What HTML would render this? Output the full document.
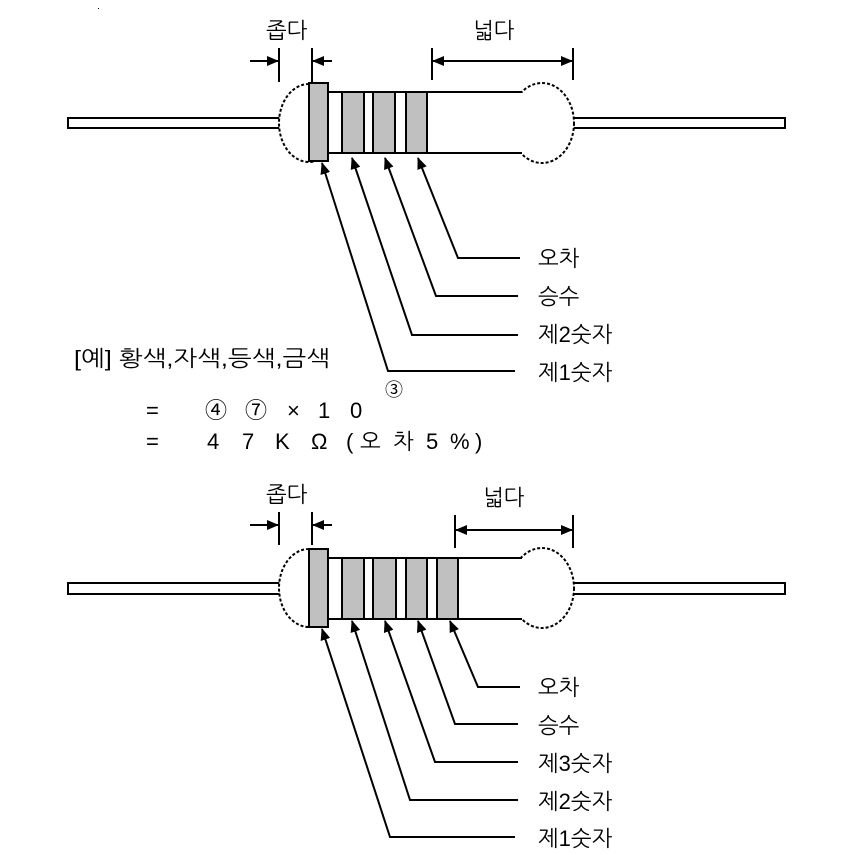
<!DOCTYPE html>
<html><head><meta charset="utf-8"><style>
html,body{margin:0;padding:0;background:#fff;width:856px;height:855px;overflow:hidden}
text{font-family:"Liberation Sans","NanumGothic","Noto Sans CJK KR",sans-serif;fill:#000}
</style></head><body>
<svg width="856" height="855" viewBox="0 0 856 855" xmlns="http://www.w3.org/2000/svg">
<defs>
<marker id="a" markerWidth="12" markerHeight="10" refX="11" refY="5" orient="auto" markerUnits="userSpaceOnUse"><path d="M0,0 L12,5 L0,10 z" fill="#000"/></marker>
</defs>
<rect x="98" y="8" width="1" height="1" fill="#000"/>
<g stroke="#000" stroke-width="2" fill="none">
<rect x="68" y="118" width="212" height="10"/>
<rect x="573" y="118" width="212" height="10"/>
<ellipse cx="309" cy="123" rx="30" ry="39" fill="#fff" stroke-dasharray="3,2"/>
<ellipse cx="542" cy="123" rx="32" ry="40" fill="#fff" stroke-dasharray="3,2"/>
<rect x="328" y="93" width="194" height="59" fill="#fff" stroke="none"/>
<path d="M328 92 H522 M328 153 H522"/>
<rect x="309" y="83" width="19" height="78" fill="#c0c0c0"/>
<rect x="342" y="92" width="22" height="61" fill="#c0c0c0"/>
<rect x="373" y="92" width="22" height="61" fill="#c0c0c0"/>
<rect x="406" y="92" width="21" height="61" fill="#c0c0c0"/>
<path d="M279 48 V82 M312 48 V82 M432 48 V80 M573 48 V80"/>
<path d="M250 61 H278" marker-end="url(#a)"/>
<path d="M332 61 H313" marker-end="url(#a)"/>
<path d="M500 61 H433" marker-end="url(#a)"/>
<path d="M500 61 H572" marker-end="url(#a)"/>
<path d="M515 371 H388 L322 163" marker-end="url(#a)"/>
<path d="M518 335 H412 L352 158" marker-end="url(#a)"/>
<path d="M518 296 H436 L385 158" marker-end="url(#a)"/>
<path d="M520 258 H458 L418 158" marker-end="url(#a)"/>
</g>
<text x="266" y="38" font-size="22">좁다</text>
<text x="473" y="38" font-size="22">넓다</text>
<text x="538" y="266" font-size="22">오차</text>
<text x="538" y="304" font-size="22">승수</text>
<text x="538" y="342" font-size="22">제2숫자</text>
<text x="538" y="380" font-size="22">제1숫자</text>
<text x="74" y="366" font-size="22" textLength="256" lengthAdjust="spacingAndGlyphs">[예] 황색,자색,등색,금색</text>
<text x="385" y="396" font-size="18">③</text>
<g font-size="22">
<text x="146" y="418">=</text><text x="205" y="418">④</text><text x="245" y="418">⑦</text><text x="287" y="418">×</text><text x="318" y="418">1</text><text x="350" y="418">0</text>
<text x="146" y="449">=</text><text x="207" y="449">4</text><text x="242" y="449">7</text><text x="275" y="449">K</text><text x="311" y="449">Ω</text><text x="346" y="449">(</text><text x="360" y="449">오</text><text x="393" y="449">차</text><text x="426" y="449">5</text><text x="450" y="449">%</text><text x="475" y="449">)</text>
</g>
<g stroke="#000" stroke-width="2" fill="none">
<rect x="68" y="583" width="212" height="11"/>
<rect x="573" y="583" width="212" height="11"/>
<ellipse cx="309" cy="588" rx="30" ry="39" fill="#fff" stroke-dasharray="3,2"/>
<ellipse cx="542" cy="588" rx="32" ry="40" fill="#fff" stroke-dasharray="3,2"/>
<rect x="328" y="559" width="194" height="59" fill="#fff" stroke="none"/>
<path d="M328 558 H522 M328 619 H522"/>
<rect x="309" y="549" width="19" height="78" fill="#c0c0c0"/>
<rect x="342" y="558" width="22" height="61" fill="#c0c0c0"/>
<rect x="373" y="558" width="23" height="61" fill="#c0c0c0"/>
<rect x="406" y="558" width="21" height="61" fill="#c0c0c0"/>
<rect x="437" y="558" width="21" height="61" fill="#c0c0c0"/>
<path d="M279 512 V545 M312 512 V545 M455 515 V548 M573 515 V548"/>
<path d="M250 525 H278" marker-end="url(#a)"/>
<path d="M332 525 H313" marker-end="url(#a)"/>
<path d="M515 530 H456" marker-end="url(#a)"/>
<path d="M515 530 H572" marker-end="url(#a)"/>
<path d="M515 837 H390 L322 629" marker-end="url(#a)"/>
<path d="M518 800 H410 L352 621" marker-end="url(#a)"/>
<path d="M518 762 H435 L385 621" marker-end="url(#a)"/>
<path d="M518 724 H455 L418 621" marker-end="url(#a)"/>
<path d="M520 687 H478 L450 621" marker-end="url(#a)"/>
</g>
<text x="266" y="502" font-size="22">좁다</text>
<text x="483" y="505" font-size="22">넓다</text>
<text x="538" y="695" font-size="22">오차</text>
<text x="538" y="733" font-size="22">승수</text>
<text x="538" y="771" font-size="22">제3숫자</text>
<text x="538" y="809" font-size="22">제2숫자</text>
<text x="538" y="846" font-size="22">제1숫자</text>
</svg>
</body></html>
